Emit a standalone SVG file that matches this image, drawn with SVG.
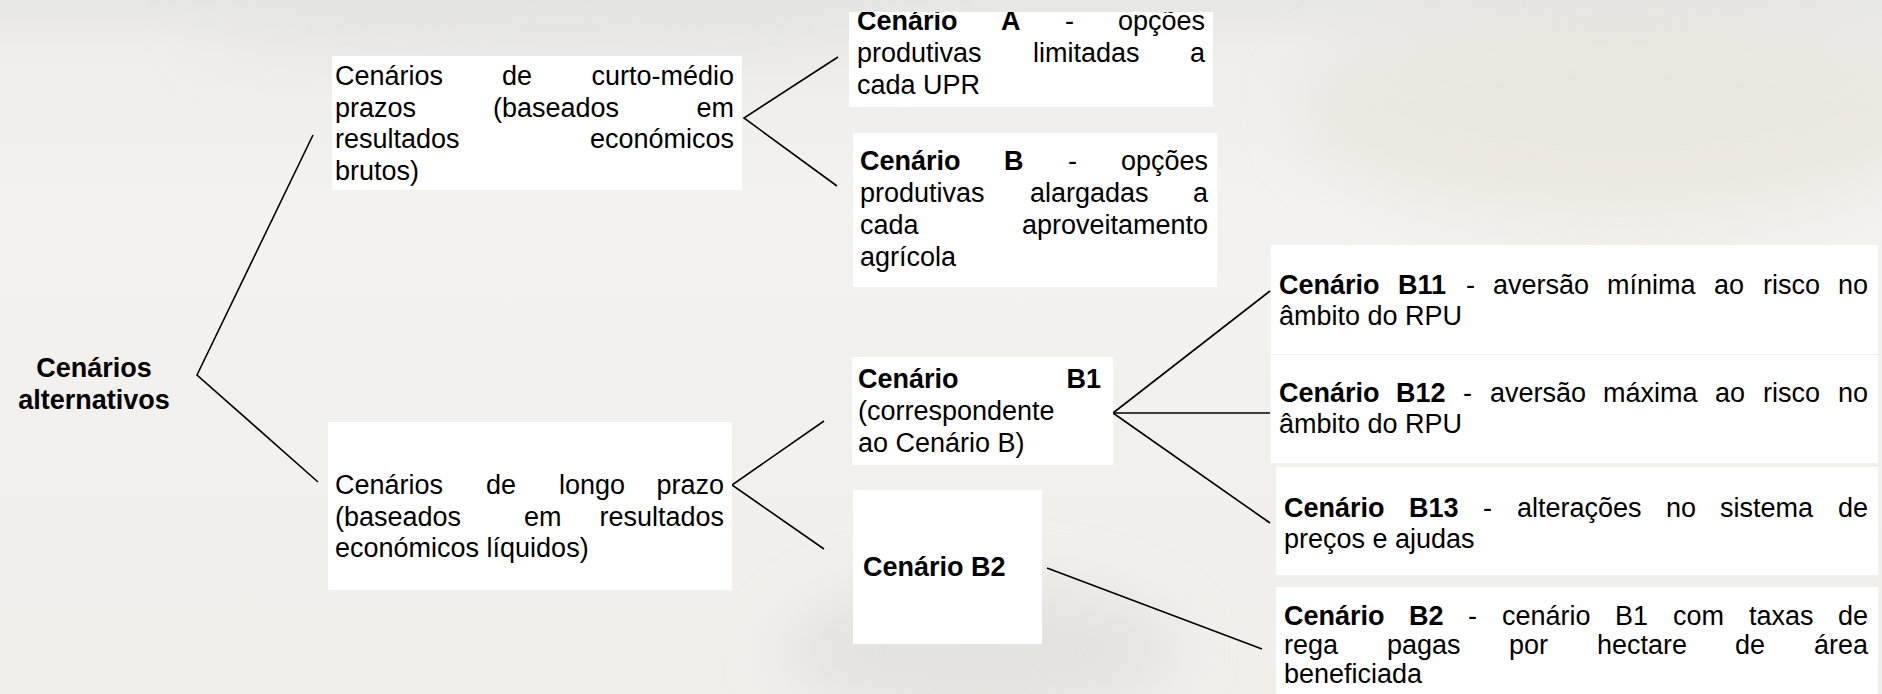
<svg xmlns="http://www.w3.org/2000/svg" width="1882" height="694" viewBox="0 0 1882 694">
<defs>
<style>
.t{font-family:"Liberation Sans",Arial,sans-serif;font-size:27px;fill:#000}
.b{font-weight:bold}
.e{text-anchor:end}
.m{text-anchor:middle}
.box{fill:#fff;stroke:none}
.c{stroke:#000;stroke-width:1.6;fill:none}
</style>
<linearGradient id="bg" x1="0" y1="0" x2="0" y2="1">
<stop offset="0" stop-color="#e6e6e3"/>
<stop offset="0.08" stop-color="#efeeeb"/>
<stop offset="0.3" stop-color="#f4f2ee"/>
<stop offset="1" stop-color="#f2efeb"/>
</linearGradient>
<filter id="soft" x="-50%" y="-50%" width="200%" height="200%"><feGaussianBlur stdDeviation="30"/></filter>
<clipPath id="clipA"><rect x="849" y="12" width="364" height="95"/></clipPath>
</defs>
<g id="background">
<rect x="0" y="0" width="1882" height="694" fill="url(#bg)"/>
<ellipse cx="1620" cy="110" rx="320" ry="110" fill="#e6e1d9" opacity="0.6" filter="url(#soft)"/>
<ellipse cx="980" cy="650" rx="200" ry="70" fill="#dcdad6" opacity="0.6" filter="url(#soft)"/>
<ellipse cx="560" cy="30" rx="360" ry="40" fill="#e0e0dc" opacity="0.5" filter="url(#soft)"/>
</g>

<g id="connectors">
<polyline class="c" points="313,135 197,375 318,482"/>
<polyline class="c" points="838,57 744,118 837,186"/>
<polyline class="c" points="824,421 732,485 824,549"/>
<line class="c" x1="1113" y1="413" x2="1270" y2="291"/>
<line class="c" x1="1113" y1="413" x2="1270" y2="413"/>
<line class="c" x1="1113" y1="413" x2="1270" y2="523"/>
<line class="c" x1="1047" y1="568" x2="1262" y2="649"/>
</g>

<g id="root">
<text class="t b m" x="94" y="377">Cenários</text>
<text class="t b m" x="94" y="409">alternativos</text>
</g>

<g id="curto-medio">
<rect class="box" x="332" y="56" width="410" height="134"/>
<text class="t" y="85"><tspan x="335">Cenários </tspan><tspan x="502">de </tspan><tspan class="e" x="734">curto-médio</tspan></text>
<text class="t" y="116.5"><tspan x="335">prazos </tspan><tspan x="493">(baseados </tspan><tspan class="e" x="734">em</tspan></text>
<text class="t" y="148"><tspan x="335">resultados </tspan><tspan class="e" x="734">económicos</tspan></text>
<text class="t" x="335" y="179.5">brutos)</text>
</g>

<g id="cenario-a">
<rect class="box" x="849" y="12" width="364" height="95"/>
<g clip-path="url(#clipA)">
<text class="t" y="30"><tspan class="b" x="857">Cenário </tspan><tspan class="b" x="1001">A </tspan><tspan x="1065">- </tspan><tspan class="e" x="1205">opções</tspan></text>
</g>
<text class="t" y="62"><tspan x="857">produtivas </tspan><tspan x="1033">limitadas </tspan><tspan class="e" x="1205">a</tspan></text>
<text class="t" x="857" y="93.5">cada UPR</text>
</g>

<g id="cenario-b">
<rect class="box" x="853" y="133" width="364" height="154"/>
<text class="t" y="170"><tspan class="b" x="860">Cenário </tspan><tspan class="b" x="1004">B </tspan><tspan x="1068">- </tspan><tspan class="e" x="1208">opções</tspan></text>
<text class="t" y="202"><tspan x="860">produtivas </tspan><tspan x="1030">alargadas </tspan><tspan class="e" x="1208">a</tspan></text>
<text class="t" y="234"><tspan x="860">cada </tspan><tspan class="e" x="1208">aproveitamento</tspan></text>
<text class="t" x="860" y="266">agrícola</text>
</g>

<g id="longo-prazo">
<rect class="box" x="328" y="422" width="404" height="168"/>
<text class="t" y="494"><tspan x="335">Cenários </tspan><tspan x="486">de </tspan><tspan x="559">longo </tspan><tspan class="e" x="724">prazo</tspan></text>
<text class="t" y="525.5"><tspan x="335">(baseados </tspan><tspan x="524">em </tspan><tspan class="e" x="724">resultados</tspan></text>
<text class="t" x="335" y="557">económicos líquidos)</text>
</g>

<g id="cenario-b1">
<rect class="box" x="852" y="357" width="261" height="108"/>
<text class="t b" y="388"><tspan x="858">Cenário </tspan><tspan class="e" x="1101">B1</tspan></text>
<text class="t" x="858" y="420">(correspondente</text>
<text class="t" x="858" y="452">ao Cenário B)</text>
</g>

<g id="cenario-b2">
<rect class="box" x="853" y="490" width="189" height="154"/>
<text class="t b" x="863" y="576">Cenário B2</text>
</g>

<g id="cenario-b11">
<rect class="box" x="1271" y="245" width="607" height="109"/>
<text class="t" y="294"><tspan class="b" x="1279">Cenário </tspan><tspan class="b" x="1398">B11 </tspan><tspan x="1466">- </tspan><tspan x="1493">aversão </tspan><tspan x="1607">mínima </tspan><tspan x="1714">ao </tspan><tspan x="1763">risco </tspan><tspan class="e" x="1868">no</tspan></text>
<text class="t" x="1279" y="325">âmbito do RPU</text>
</g>

<g id="cenario-b12">
<rect class="box" x="1271" y="355" width="607" height="108"/>
<text class="t" y="402"><tspan class="b" x="1279">Cenário </tspan><tspan class="b" x="1396">B12 </tspan><tspan x="1463">- </tspan><tspan x="1490">aversão </tspan><tspan x="1603">máxima </tspan><tspan x="1715">ao </tspan><tspan x="1763">risco </tspan><tspan class="e" x="1868">no</tspan></text>
<text class="t" x="1279" y="433">âmbito do RPU</text>
</g>

<g id="cenario-b13">
<rect class="box" x="1276" y="467" width="602" height="108"/>
<text class="t" y="517"><tspan class="b" x="1284">Cenário </tspan><tspan class="b" x="1409">B13 </tspan><tspan x="1483">- </tspan><tspan x="1517">alterações </tspan><tspan x="1666">no </tspan><tspan x="1720">sistema </tspan><tspan class="e" x="1868">de</tspan></text>
<text class="t" x="1284" y="548">preços e ajudas</text>
</g>

<g id="cenario-b2-desc">
<rect class="box" x="1276" y="587" width="602" height="107"/>
<text class="t" y="625"><tspan class="b" x="1284">Cenário </tspan><tspan class="b" x="1409">B2 </tspan><tspan x="1468">- </tspan><tspan x="1502">cenário </tspan><tspan x="1615">B1 </tspan><tspan x="1673">com </tspan><tspan x="1749">taxas </tspan><tspan class="e" x="1868">de</tspan></text>
<text class="t" y="654"><tspan x="1284">rega </tspan><tspan x="1387">pagas </tspan><tspan x="1509">por </tspan><tspan x="1597">hectare </tspan><tspan x="1735">de </tspan><tspan class="e" x="1868">área</tspan></text>
<text class="t" x="1284" y="683">beneficiada</text>
</g>
</svg>
